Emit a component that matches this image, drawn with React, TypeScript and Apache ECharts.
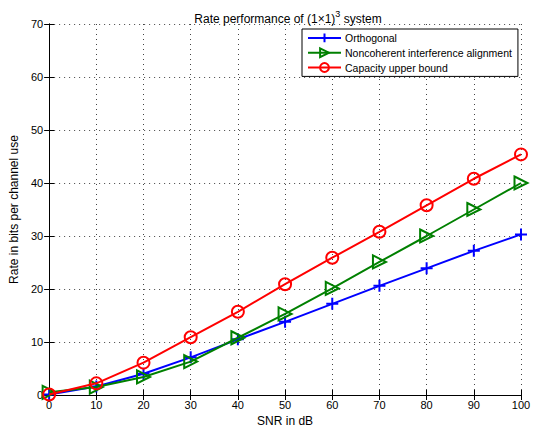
import React, { useEffect, useRef } from "react";
import * as echarts from "echarts";

const snr = [0, 10, 20, 30, 40, 50, 60, 70, 80, 90, 100];
const orthogonal = [0.1, 1.6, 4.0, 7.1, 10.5, 13.8, 17.2, 20.6, 23.9, 27.2, 30.3];
const noncoherent = [0.5, 1.5, 3.4, 6.3, 10.8, 15.3, 20.1, 25.1, 30.0, 35.0, 40.0];
const capacity = [0.1, 2.2, 6.1, 10.9, 15.7, 20.9, 25.9, 30.8, 35.8, 40.8, 45.4];
const seriesNames = ["Orthogonal", "Noncoherent interference alignment", "Capacity upper bound"];

const FONT = "'Liberation Sans', Arial, Helvetica, sans-serif";

export default function App() {
  const ref = useRef<HTMLDivElement>(null);
  useEffect(() => {
    if (!ref.current) return;
    const chart = echarts.init(ref.current, null, { renderer: "svg" });
    const pair = (ys: number[]) => snr.map((x, i) => [x, ys[i]]);
    const axisCommon = {
      type: "value" as const,
      axisLine: { show: true, lineStyle: { color: "#000", width: 1 } },
      axisTick: { show: true, inside: true, length: 5, lineStyle: { color: "#000" } },
      splitLine: { show: false },
    };
    chart.setOption({
      animation: false,
      backgroundColor: "#fff",
      textStyle: { fontFamily: FONT },
      title: {
        text: "{a|Rate performance of (1×1)}{s|3}{a| system}",
        left: 283,
        textAlign: "center",
        top: 4,
        textStyle: {
          fontWeight: "normal",
          rich: {
            a: { fontSize: 12, fontFamily: FONT, color: "#000", fontWeight: "normal", verticalAlign: "bottom", lineHeight: 16 },
            s: { fontSize: 9, fontFamily: FONT, color: "#000", fontWeight: "normal", verticalAlign: "top", lineHeight: 16, padding: [0, 0, 6, 0] },
          },
        },
      },
      legend: {
        orient: "vertical",
        left: 302,
        top: 29,
        padding: [2, 6, 2, 5],
        itemGap: 1,
        itemWidth: 33,
        itemHeight: 11,
        backgroundColor: "#fff",
        borderColor: "#000",
        borderWidth: 1,
        borderRadius: 0,
        textStyle: { fontSize: 10.5, fontFamily: FONT, color: "#000", padding: [0, 0, 0, -1] },
        data: seriesNames,
      },
      grid: { left: 46, right: 16, top: 24, bottom: 34, show: false },
      xAxis: [
        {
          ...axisCommon,
          min: 0,
          max: 100,
          interval: 10,
          name: "SNR in dB",
          nameLocation: "middle",
          nameGap: 20,
          nameTextStyle: { fontSize: 12, color: "#000", fontFamily: FONT },
          axisLabel: { fontSize: 11, color: "#000", margin: 4, fontFamily: FONT },
          splitLine: { show: true, lineStyle: { color: "#444", type: [1, 4], width: 1 } },
        },
        { ...axisCommon, position: "top", min: 0, max: 100, interval: 10, axisLabel: { show: false } },
      ],
      yAxis: [
        {
          ...axisCommon,
          min: 0,
          max: 70,
          interval: 10,
          name: "Rate in bits per channel use",
          nameLocation: "middle",
          nameGap: 28,
          nameTextStyle: { fontSize: 12, color: "#000", fontFamily: FONT },
          axisLabel: { fontSize: 11, color: "#000", margin: 6, fontFamily: FONT },
          splitLine: { show: true, lineStyle: { color: "#444", type: [1, 4], width: 1 } },
        },
        { ...axisCommon, position: "right", min: 0, max: 70, interval: 10, axisLabel: { show: false } },
      ],
      series: [
        {
          name: seriesNames[0],
          type: "line",
          data: pair(orthogonal),
          symbol: "path://M5,0L5,10M0,5L10,5",
          symbolSize: 12,
          lineStyle: { color: "#0000ff", width: 2 },
          itemStyle: { color: "none", borderColor: "#0000ff", borderWidth: 2 },
          z: 3,
        },
        {
          name: seriesNames[1],
          type: "line",
          data: pair(noncoherent),
          symbol: "path://M0,0L10,5L0,10Z",
          symbolSize: 13,
          lineStyle: { color: "#008000", width: 2 },
          itemStyle: { color: "none", borderColor: "#008000", borderWidth: 2 },
          z: 4,
        },
        {
          name: seriesNames[2],
          type: "line",
          data: pair(capacity),
          symbol: "path://M10,5A5,5 0 1 1 0,5A5,5 0 1 1 10,5Z",
          symbolSize: 12,
          lineStyle: { color: "#ff0000", width: 2 },
          itemStyle: { color: "none", borderColor: "#ff0000", borderWidth: 2 },
          z: 5,
        },
      ],
    });
    return () => chart.dispose();
  }, []);
  return <div ref={ref} style={{ width: 537, height: 432, position: "absolute", left: 0, top: 0 }} />;
}
